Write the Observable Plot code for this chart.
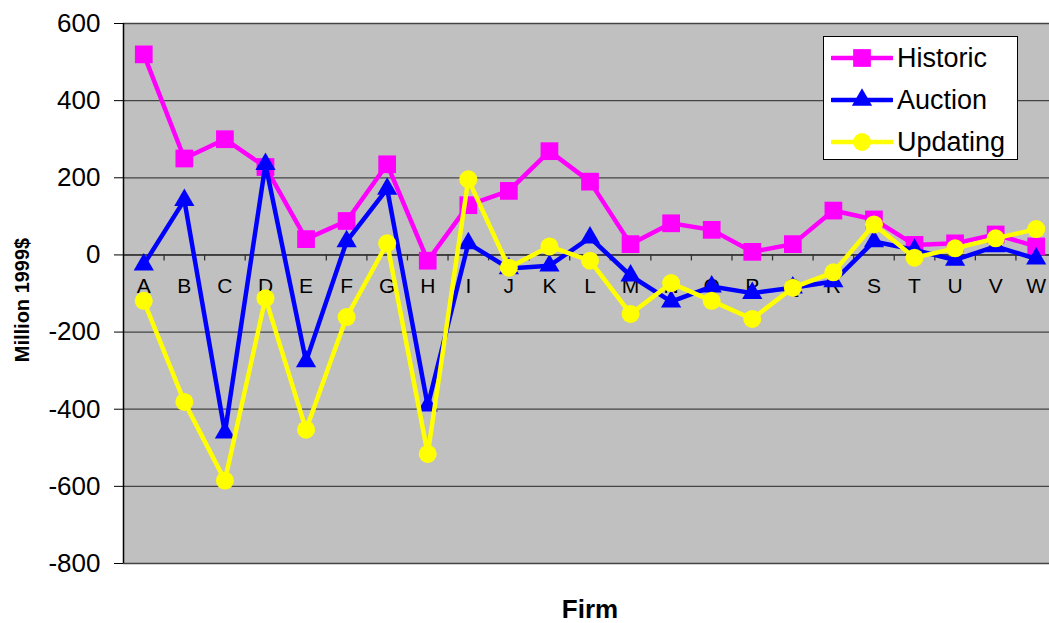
<!DOCTYPE html>
<html><head><meta charset="utf-8">
<script src="https://cdn.jsdelivr.net/npm/d3@7"></script>
<script src="https://cdn.jsdelivr.net/npm/@observablehq/plot@0.6"></script>
<style>
body{margin:0;background:#fff;font-family:"Liberation Sans",Arial,sans-serif;}
#wrap{position:relative;width:1049px;height:623px;overflow:hidden;}
#chart{position:absolute;left:0;top:0;}
.ylab{position:absolute;left:22px;top:300px;transform:translate(-50%,-50%) rotate(-90deg);font-weight:bold;font-size:20px;white-space:nowrap;}
.xlab{position:absolute;left:590px;top:609px;transform:translate(-50%,-50%);font-weight:bold;font-size:26px;}
#legend{position:absolute;left:823px;top:36px;width:193px;height:122px;border:1.5px solid #000;background:#fff;}
.item{position:absolute;left:0;height:42px;display:flex;align-items:center;font-size:27px;}
.item svg{margin-left:7px;margin-right:4px;}
</style></head><body>
<div id="wrap"><div id="chart"></div>
<div class="ylab">Million 1999$</div>
<div class="xlab">Firm</div>
<div id="legend"></div>
</div>
<script>
const firms = ["A","B","C","D","E","F","G","H","I","J","K","L","M","N","O","P","Q","R","S","T","U","V","W"];
const historic = [520,250,300,228,41,88,235,-15,129,166,269,190,28,82,65,8,28,115,92,26,30,53,22];
const auction  = [-25,142,-461,235,-276,35,171,-391,30,-35,-28,45,-54,-121,-82,-99,-85,-69,35,13,-13,22,-10];
const updating = [-119,-381,-585,-112,-453,-161,30,-516,196,-33,22,-15,-153,-73,-119,-166,-85,-45,79,-7,17,43,67];
const yTicks = [-800,-600,-400,-200,0,200,400,600];
const seriesNames = ["Historic","Auction","Updating"];
const seriesColors = ["#FF00FF","#0000FF","#FFFF00"];
const seriesSymbols = ["square","triangle","circle"];
const seriesR = [10,7.5,9];

const seriesValues = [historic, auction, updating];
const edges = firms.slice(0, -1).map((d, i) => i + 0.5);

const marks = [
  Plot.frame({fill: "#C0C0C0", stroke: "none"}),
  Plot.ruleY(yTicks, {stroke: "#444", strokeWidth: 1.3}),
  Plot.ruleY([0], {stroke: "#333", strokeWidth: 1.5}),
  Plot.ruleX(edges, {y1: 0, y2: 0, insetBottom: -6, stroke: "#333", strokeWidth: 1.3}),
  Plot.ruleX([-0.5], {stroke: "#000", strokeWidth: 1.5}),
  Plot.axisY({ticks: yTicks, tickSize: 9, tickPadding: 14, fontSize: 26, tickFormat: d => String(d), label: null, stroke: "#000"}),
  Plot.text(firms, {x: (d, i) => i, y: 0, text: d => d, dy: 31, fontSize: 21, fill: "#000"})
];
seriesNames.forEach((name, s) => {
  const vals = seriesValues[s];
  const rows = firms.map((f, i) => ({i, v: vals[i]}));
  marks.push(Plot.line(rows, {x: "i", y: "v", stroke: seriesColors[s], strokeWidth: 4.5}));
  marks.push(Plot.dot(rows, {x: "i", y: "v", symbol: seriesSymbols[s], r: seriesR[s], fill: seriesColors[s], stroke: "none"}));
});

const chart = Plot.plot({
  width: 1049, height: 623,
  marginLeft: 123, marginRight: 0, marginTop: 23, marginBottom: 60,
  style: {fontFamily: "'Liberation Sans', Arial, sans-serif", background: "transparent", color: "#000"},
  x: {domain: [-0.5, firms.length - 0.5], range: [123, 1056], axis: null},
  y: {domain: [-800, 600], axis: null},
  marks
});
document.getElementById("chart").appendChild(chart);

// legend
const legend = document.getElementById("legend");
seriesNames.forEach((name, s) => {
  const item = document.createElement("div");
  item.className = "item";
  item.style.top = (s * 42) + "px";
  const svg = d3.create("svg").attr("width", 62).attr("height", 30);
  svg.append("line").attr("x1", 1).attr("x2", 61).attr("y1", 15).attr("y2", 15)
    .attr("stroke", seriesColors[s]).attr("stroke-width", 4.5).attr("stroke-linecap", "round");
  const sym = {square: d3.symbolSquare, triangle: d3.symbolTriangle, circle: d3.symbolCircle}[seriesSymbols[s]];
  svg.append("path").attr("transform", "translate(31,15)")
    .attr("d", d3.symbol(sym, seriesR[s] * seriesR[s] * Math.PI)())
    .attr("fill", seriesColors[s]);
  item.appendChild(svg.node());
  const t = document.createElement("span");
  t.textContent = name;
  item.appendChild(t);
  legend.appendChild(item);
});
</script>
</body></html>
